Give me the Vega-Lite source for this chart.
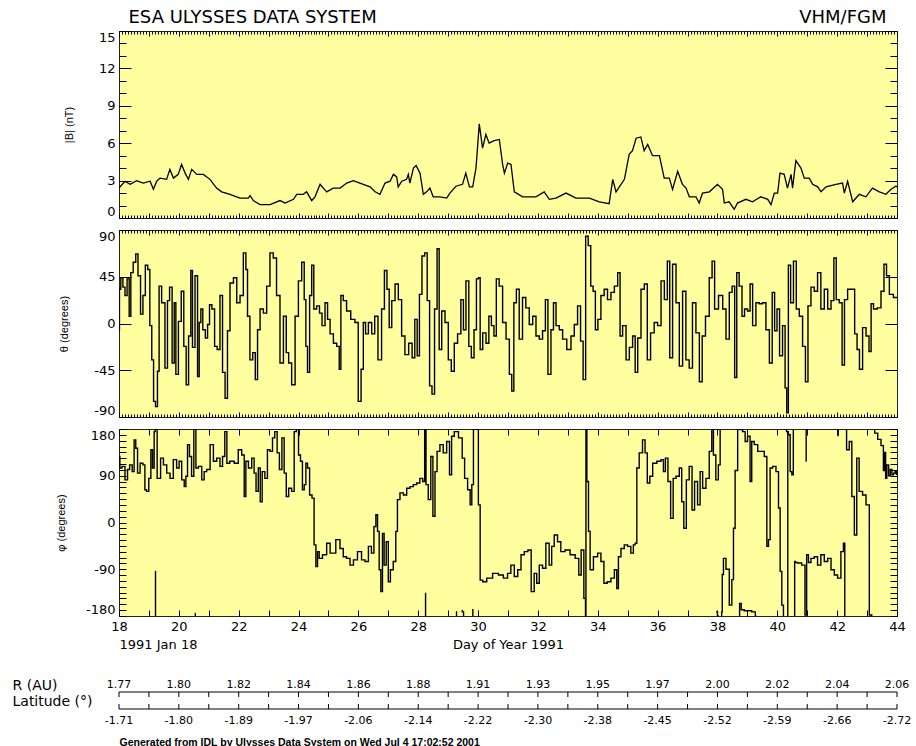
{
"$schema": "https://vega.github.io/schema/vega-lite/v6.json",
"background": "white",
"padding": {"left": 12, "top": 8, "right": 5, "bottom": 0},
"spacing": 10,
"config": {
  "view": {"stroke": "#222222", "strokeWidth": 1, "fill": "#ffffa0"},
  "axis": {"grid": false, "domain": false, "tickColor": "black", "tickWidth": 1, "labelColor": "black", "titleColor": "black", "labelFont": "DejaVu Sans", "labelFontSize": 13, "titleFont": "Liberation Sans", "titleFontSize": 11, "titleFontWeight": "normal"}
},
"datasets": {
  "B": [
    {"day":18.00,"B":2.4},{"day":18.20,"B":2.95},{"day":18.37,"B":2.7},{"day":18.59,"B":3.0},{"day":18.81,"B":2.8},{"day":19.04,"B":2.95},{"day":19.15,"B":2.3},{"day":19.26,"B":2.95},{"day":19.37,"B":3.2},{"day":19.59,"B":3.1},{"day":19.70,"B":3.9},{"day":19.82,"B":3.2},{"day":19.98,"B":3.5},{"day":20.09,"B":4.3},{"day":20.21,"B":3.6},{"day":20.32,"B":3.1},{"day":20.43,"B":3.9},{"day":20.60,"B":3.5},{"day":20.82,"B":3.5},{"day":21.04,"B":3.1},{"day":21.26,"B":2.4},{"day":21.43,"B":2.1},{"day":21.71,"B":1.9},{"day":22.04,"B":1.6},{"day":22.32,"B":1.6},{"day":22.38,"B":1.8},{"day":22.49,"B":1.4},{"day":22.71,"B":1.07},{"day":23.05,"B":1.07},{"day":23.38,"B":1.4},{"day":23.55,"B":1.2},{"day":23.83,"B":1.5},{"day":23.94,"B":1.9},{"day":24.16,"B":1.9},{"day":24.27,"B":2.1},{"day":24.44,"B":1.4},{"day":24.55,"B":1.7},{"day":24.72,"B":2.7},{"day":24.94,"B":2.1},{"day":25.16,"B":2.4},{"day":25.39,"B":2.4},{"day":25.61,"B":2.8},{"day":25.83,"B":3.0},{"day":26.05,"B":2.8},{"day":26.39,"B":2.5},{"day":26.56,"B":2.1},{"day":26.72,"B":1.9},{"day":26.89,"B":2.8},{"day":27.06,"B":2.95},{"day":27.17,"B":3.5},{"day":27.28,"B":3.3},{"day":27.33,"B":2.5},{"day":27.45,"B":2.95},{"day":27.61,"B":3.1},{"day":27.67,"B":3.5},{"day":27.72,"B":2.8},{"day":27.84,"B":4.0},{"day":27.93,"B":4.2},{"day":28.06,"B":3.6},{"day":28.17,"B":1.9},{"day":28.28,"B":2.1},{"day":28.39,"B":2.4},{"day":28.50,"B":1.7},{"day":28.73,"B":1.7},{"day":28.95,"B":1.6},{"day":29.06,"B":2.0},{"day":29.26,"B":2.55},{"day":29.48,"B":2.7},{"day":29.59,"B":3.6},{"day":29.71,"B":2.5},{"day":29.82,"B":2.5},{"day":29.93,"B":4.0},{"day":30.04,"B":7.55},{"day":30.15,"B":5.6},{"day":30.26,"B":6.7},{"day":30.37,"B":6.0},{"day":30.54,"B":6.2},{"day":30.71,"B":6.3},{"day":30.82,"B":4.3},{"day":30.88,"B":3.6},{"day":30.99,"B":4.4},{"day":31.10,"B":4.3},{"day":31.21,"B":2.1},{"day":31.49,"B":1.7},{"day":31.93,"B":1.7},{"day":32.21,"B":2.1},{"day":32.38,"B":1.5},{"day":32.60,"B":1.6},{"day":32.94,"B":2.0},{"day":33.27,"B":1.6},{"day":33.72,"B":1.6},{"day":34.05,"B":1.3},{"day":34.38,"B":1.15},{"day":34.50,"B":3.1},{"day":34.61,"B":2.1},{"day":34.72,"B":2.5},{"day":34.89,"B":3.1},{"day":35.05,"B":5.1},{"day":35.16,"B":5.4},{"day":35.28,"B":6.4},{"day":35.44,"B":6.5},{"day":35.55,"B":5.4},{"day":35.67,"B":5.9},{"day":35.83,"B":5.0},{"day":36.06,"B":5.0},{"day":36.22,"B":3.2},{"day":36.39,"B":3.2},{"day":36.50,"B":2.3},{"day":36.67,"B":3.75},{"day":36.83,"B":2.7},{"day":36.95,"B":2.4},{"day":37.06,"B":1.7},{"day":37.28,"B":1.7},{"day":37.39,"B":1.2},{"day":37.50,"B":2.0},{"day":37.73,"B":2.1},{"day":38.00,"B":2.7},{"day":38.17,"B":2.3},{"day":38.23,"B":1.2},{"day":38.39,"B":1.3},{"day":38.56,"B":0.7},{"day":38.67,"B":1.2},{"day":38.95,"B":1.5},{"day":39.17,"B":1.3},{"day":39.45,"B":1.7},{"day":39.68,"B":1.5},{"day":39.79,"B":1.07},{"day":39.90,"B":2.0},{"day":40.01,"B":2.0},{"day":40.09,"B":3.6},{"day":40.23,"B":3.5},{"day":40.34,"B":2.4},{"day":40.46,"B":3.5},{"day":40.51,"B":2.4},{"day":40.62,"B":4.6},{"day":40.79,"B":4.0},{"day":40.90,"B":3.2},{"day":41.07,"B":3.2},{"day":41.18,"B":2.7},{"day":41.35,"B":2.5},{"day":41.46,"B":2.1},{"day":41.63,"B":2.5},{"day":41.96,"B":2.7},{"day":42.18,"B":2.8},{"day":42.24,"B":2.0},{"day":42.35,"B":2.95},{"day":42.52,"B":1.3},{"day":42.74,"B":1.9},{"day":42.96,"B":1.7},{"day":43.18,"B":2.4},{"day":43.41,"B":2.1},{"day":43.63,"B":1.9},{"day":43.80,"B":2.3},{"day":43.96,"B":2.55},{"day":44.00,"B":2.5}
  ],
  "theta": [
    {"day":18.00,"theta":-6},{"day":18.03,"theta":33},{"day":18.09,"theta":44},{"day":18.17,"theta":35},{"day":18.23,"theta":27},{"day":18.31,"theta":43},{"day":18.37,"theta":7},{"day":18.42,"theta":49},{"day":18.53,"theta":59},{"day":18.59,"theta":67},{"day":18.68,"theta":46},{"day":18.76,"theta":9},{"day":18.84,"theta":27},{"day":18.92,"theta":56},{"day":19.00,"theta":52},{"day":19.06,"theta":-2},{"day":19.13,"theta":-35},{"day":19.18,"theta":-75},{"day":19.26,"theta":-80},{"day":19.31,"theta":-46},{"day":19.37,"theta":36},{"day":19.48,"theta":20},{"day":19.59,"theta":-43},{"day":19.65,"theta":22},{"day":19.73,"theta":35},{"day":19.82,"theta":-38},{"day":19.87,"theta":20},{"day":19.93,"theta":-49},{"day":20.04,"theta":2},{"day":20.12,"theta":31},{"day":20.21,"theta":-22},{"day":20.28,"theta":-59},{"day":20.37,"theta":-12},{"day":20.43,"theta":51},{"day":20.48,"theta":-23},{"day":20.60,"theta":46},{"day":20.65,"theta":-51},{"day":20.71,"theta":1},{"day":20.76,"theta":14},{"day":20.84,"theta":-6},{"day":20.93,"theta":-14},{"day":20.99,"theta":-1},{"day":21.06,"theta":18},{"day":21.15,"theta":14},{"day":21.24,"theta":-22},{"day":21.32,"theta":-25},{"day":21.43,"theta":27},{"day":21.49,"theta":-47},{"day":21.60,"theta":-72},{"day":21.65,"theta":-7},{"day":21.77,"theta":39},{"day":21.88,"theta":44},{"day":21.99,"theta":20},{"day":22.10,"theta":27},{"day":22.21,"theta":68},{"day":22.27,"theta":52},{"day":22.32,"theta":7},{"day":22.43,"theta":-35},{"day":22.51,"theta":-28},{"day":22.60,"theta":-54},{"day":22.66,"theta":-6},{"day":22.77,"theta":14},{"day":22.88,"theta":10},{"day":22.99,"theta":36},{"day":23.10,"theta":68},{"day":23.21,"theta":63},{"day":23.32,"theta":27},{"day":23.44,"theta":-38},{"day":23.55,"theta":7},{"day":23.63,"theta":-28},{"day":23.71,"theta":-38},{"day":23.83,"theta":-59},{"day":23.94,"theta":7},{"day":24.05,"theta":41},{"day":24.16,"theta":59},{"day":24.22,"theta":23},{"day":24.27,"theta":-22},{"day":24.33,"theta":-47},{"day":24.41,"theta":27},{"day":24.47,"theta":56},{"day":24.55,"theta":14},{"day":24.66,"theta":17},{"day":24.74,"theta":10},{"day":24.83,"theta":-2},{"day":24.94,"theta":20},{"day":25.00,"theta":4},{"day":25.11,"theta":-10},{"day":25.22,"theta":-19},{"day":25.33,"theta":-22},{"day":25.39,"theta":-44},{"day":25.44,"theta":27},{"day":25.55,"theta":22},{"day":25.66,"theta":12},{"day":25.83,"theta":4},{"day":25.94,"theta":1},{"day":26.05,"theta":-75},{"day":26.13,"theta":-44},{"day":26.20,"theta":1},{"day":26.28,"theta":-10},{"day":26.39,"theta":1},{"day":26.50,"theta":-10},{"day":26.59,"theta":7},{"day":26.72,"theta":-35},{"day":26.83,"theta":14},{"day":26.91,"theta":51},{"day":27.00,"theta":33},{"day":27.06,"theta":-4},{"day":27.17,"theta":22},{"day":27.28,"theta":38},{"day":27.39,"theta":23},{"day":27.50,"theta":-12},{"day":27.61,"theta":-30},{"day":27.75,"theta":-19},{"day":27.84,"theta":-33},{"day":27.93,"theta":4},{"day":28.00,"theta":-31},{"day":28.08,"theta":28},{"day":28.17,"theta":65},{"day":28.26,"theta":68},{"day":28.34,"theta":22},{"day":28.42,"theta":-60},{"day":28.50,"theta":-68},{"day":28.59,"theta":14},{"day":28.67,"theta":72},{"day":28.73,"theta":-25},{"day":28.84,"theta":12},{"day":28.95,"theta":1},{"day":29.06,"theta":-35},{"day":29.15,"theta":-46},{"day":29.26,"theta":-19},{"day":29.37,"theta":-10},{"day":29.48,"theta":23},{"day":29.54,"theta":-6},{"day":29.65,"theta":41},{"day":29.73,"theta":-22},{"day":29.82,"theta":-33},{"day":29.91,"theta":-6},{"day":29.98,"theta":43},{"day":30.04,"theta":44},{"day":30.10,"theta":-25},{"day":30.21,"theta":-9},{"day":30.32,"theta":-19},{"day":30.40,"theta":7},{"day":30.49,"theta":-2},{"day":30.57,"theta":-12},{"day":30.65,"theta":43},{"day":30.76,"theta":36},{"day":30.88,"theta":1},{"day":30.99,"theta":-15},{"day":31.10,"theta":-49},{"day":31.15,"theta":-65},{"day":31.24,"theta":20},{"day":31.32,"theta":33},{"day":31.43,"theta":-15},{"day":31.54,"theta":25},{"day":31.65,"theta":15},{"day":31.77,"theta":-1},{"day":31.88,"theta":7},{"day":31.99,"theta":-12},{"day":32.10,"theta":-15},{"day":32.21,"theta":-7},{"day":32.29,"theta":23},{"day":32.38,"theta":-49},{"day":32.49,"theta":-6},{"day":32.55,"theta":20},{"day":32.66,"theta":-2},{"day":32.77,"theta":-6},{"day":32.88,"theta":-15},{"day":33.05,"theta":-25},{"day":33.16,"theta":-12},{"day":33.27,"theta":-1},{"day":33.38,"theta":17},{"day":33.47,"theta":-17},{"day":33.55,"theta":-54},{"day":33.64,"theta":84},{"day":33.72,"theta":75},{"day":33.81,"theta":36},{"day":33.88,"theta":31},{"day":33.96,"theta":-6},{"day":34.05,"theta":4},{"day":34.16,"theta":27},{"day":34.27,"theta":33},{"day":34.38,"theta":23},{"day":34.50,"theta":30},{"day":34.61,"theta":36},{"day":34.72,"theta":49},{"day":34.77,"theta":-12},{"day":34.89,"theta":-2},{"day":35.00,"theta":-35},{"day":35.11,"theta":-23},{"day":35.22,"theta":-12},{"day":35.28,"theta":-47},{"day":35.39,"theta":-14},{"day":35.50,"theta":33},{"day":35.61,"theta":38},{"day":35.70,"theta":-35},{"day":35.83,"theta":-9},{"day":35.94,"theta":1},{"day":36.06,"theta":-2},{"day":36.17,"theta":41},{"day":36.28,"theta":23},{"day":36.37,"theta":60},{"day":36.44,"theta":-33},{"day":36.56,"theta":57},{"day":36.67,"theta":20},{"day":36.78,"theta":-41},{"day":36.89,"theta":31},{"day":37.00,"theta":-35},{"day":37.11,"theta":-43},{"day":37.22,"theta":20},{"day":37.34,"theta":-9},{"day":37.45,"theta":-56},{"day":37.53,"theta":-12},{"day":37.67,"theta":7},{"day":37.78,"theta":44},{"day":37.86,"theta":60},{"day":37.95,"theta":14},{"day":38.12,"theta":27},{"day":38.23,"theta":14},{"day":38.34,"theta":-15},{"day":38.45,"theta":30},{"day":38.53,"theta":36},{"day":38.62,"theta":-52},{"day":38.67,"theta":49},{"day":38.78,"theta":36},{"day":38.86,"theta":7},{"day":38.95,"theta":14},{"day":39.06,"theta":12},{"day":39.12,"theta":38},{"day":39.23,"theta":-2},{"day":39.34,"theta":20},{"day":39.45,"theta":19},{"day":39.56,"theta":20},{"day":39.68,"theta":-6},{"day":39.79,"theta":-38},{"day":39.87,"theta":30},{"day":39.95,"theta":-7},{"day":40.03,"theta":14},{"day":40.12,"theta":-31},{"day":40.23,"theta":-2},{"day":40.29,"theta":-62},{"day":40.34,"theta":-86},{"day":40.40,"theta":56},{"day":40.49,"theta":20},{"day":40.59,"theta":60},{"day":40.68,"theta":14},{"day":40.79,"theta":7},{"day":40.90,"theta":-22},{"day":40.98,"theta":-56},{"day":41.07,"theta":17},{"day":41.18,"theta":35},{"day":41.29,"theta":31},{"day":41.40,"theta":49},{"day":41.51,"theta":14},{"day":41.63,"theta":33},{"day":41.74,"theta":14},{"day":41.85,"theta":22},{"day":41.93,"theta":63},{"day":42.01,"theta":23},{"day":42.13,"theta":20},{"day":42.20,"theta":-40},{"day":42.29,"theta":23},{"day":42.41,"theta":33},{"day":42.54,"theta":33},{"day":42.63,"theta":-10},{"day":42.70,"theta":-25},{"day":42.79,"theta":-44},{"day":42.91,"theta":-4},{"day":43.02,"theta":-12},{"day":43.11,"theta":-27},{"day":43.16,"theta":19},{"day":43.27,"theta":14},{"day":43.41,"theta":15},{"day":43.52,"theta":31},{"day":43.61,"theta":57},{"day":43.69,"theta":46},{"day":43.80,"theta":28},{"day":43.96,"theta":25},{"day":44.00,"theta":25}
  ],
  "phi": [
    {"seg":1,"day":18.00,"phi":127},{"seg":1,"day":18.06,"phi":105},{"seg":1,"day":18.14,"phi":108},{"seg":1,"day":18.26,"phi":82},{"seg":1,"day":18.31,"phi":102},{"seg":1,"day":18.40,"phi":111},{"seg":1,"day":18.48,"phi":98},{"seg":1,"day":18.53,"phi":159},{"seg":1,"day":18.59,"phi":143},{"seg":1,"day":18.65,"phi":95},{"seg":1,"day":18.76,"phi":114},{"seg":1,"day":18.84,"phi":111},{"seg":1,"day":18.89,"phi":63},{"seg":1,"day":18.95,"phi":60},{"seg":1,"day":19.04,"phi":85},{"seg":1,"day":19.09,"phi":140},{"seg":1,"day":19.15,"phi":105},{"seg":1,"day":19.20,"phi":175},{"seg":1,"day":19.22,"phi":180},{"seg":1,"day":19.24,"phi":180},{"seg":1,"day":19.31,"phi":85},{"seg":1,"day":19.35,"phi":85},{"seg":1,"day":19.43,"phi":124},{"seg":1,"day":19.54,"phi":111},{"seg":1,"day":19.65,"phi":95},{"seg":1,"day":19.76,"phi":85},{"seg":1,"day":19.87,"phi":121},{"seg":1,"day":19.98,"phi":105},{"seg":1,"day":20.04,"phi":118},{"seg":1,"day":20.15,"phi":82},{"seg":1,"day":20.21,"phi":69},{"seg":1,"day":20.26,"phi":89},{"seg":1,"day":20.32,"phi":150},{"seg":1,"day":20.39,"phi":127},{"seg":1,"day":20.46,"phi":89},{"seg":1,"day":20.54,"phi":180},{"seg":1,"day":20.60,"phi":105},{"seg":1,"day":20.71,"phi":108},{"seg":1,"day":20.82,"phi":82},{"seg":1,"day":20.87,"phi":98},{"seg":1,"day":20.99,"phi":102},{"seg":1,"day":21.10,"phi":150},{"seg":1,"day":21.21,"phi":118},{"seg":1,"day":21.32,"phi":124},{"seg":1,"day":21.43,"phi":108},{"seg":1,"day":21.49,"phi":127},{"seg":1,"day":21.58,"phi":175},{"seg":1,"day":21.63,"phi":114},{"seg":1,"day":21.77,"phi":118},{"seg":1,"day":21.93,"phi":114},{"seg":1,"day":22.04,"phi":140},{"seg":1,"day":22.16,"phi":130},{"seg":1,"day":22.21,"phi":50},{"seg":1,"day":22.27,"phi":118},{"seg":1,"day":22.38,"phi":105},{"seg":1,"day":22.49,"phi":124},{"seg":1,"day":22.54,"phi":95},{"seg":1,"day":22.62,"phi":60},{"seg":1,"day":22.69,"phi":105},{"seg":1,"day":22.75,"phi":40},{"seg":1,"day":22.82,"phi":98},{"seg":1,"day":22.93,"phi":85},{"seg":1,"day":22.99,"phi":140},{"seg":1,"day":23.10,"phi":137},{"seg":1,"day":23.16,"phi":163},{"seg":1,"day":23.25,"phi":175},{"seg":1,"day":23.32,"phi":134},{"seg":1,"day":23.40,"phi":102},{"seg":1,"day":23.49,"phi":163},{"seg":1,"day":23.55,"phi":95},{"seg":1,"day":23.63,"phi":50},{"seg":1,"day":23.71,"phi":66},{"seg":1,"day":23.83,"phi":60},{"seg":1,"day":23.88,"phi":175},{"seg":1,"day":23.97,"phi":180},{"seg":1,"day":24.03,"phi":130},{"seg":1,"day":24.10,"phi":118},{"seg":1,"day":24.16,"phi":63},{"seg":1,"day":24.22,"phi":73},{"seg":1,"day":24.27,"phi":114},{"seg":1,"day":24.33,"phi":105},{"seg":1,"day":24.41,"phi":53},{"seg":1,"day":24.49,"phi":47},{"seg":1,"day":24.55,"phi":-43},{"seg":1,"day":24.61,"phi":-85},{"seg":1,"day":24.66,"phi":-56},{"seg":1,"day":24.72,"phi":-69},{"seg":1,"day":24.88,"phi":-62},{"seg":1,"day":25.00,"phi":-40},{"seg":1,"day":25.11,"phi":-59},{"seg":1,"day":25.16,"phi":-59},{"seg":1,"day":25.33,"phi":-33},{"seg":1,"day":25.44,"phi":-50},{"seg":1,"day":25.55,"phi":-66},{"seg":1,"day":25.66,"phi":-69},{"seg":1,"day":25.78,"phi":-82},{"seg":1,"day":25.89,"phi":-72},{"seg":1,"day":26.05,"phi":-56},{"seg":1,"day":26.16,"phi":-72},{"seg":1,"day":26.28,"phi":-75},{"seg":1,"day":26.39,"phi":-46},{"seg":1,"day":26.48,"phi":-59},{"seg":1,"day":26.56,"phi":-8},{"seg":1,"day":26.61,"phi":15},{"seg":1,"day":26.67,"phi":-17},{"seg":1,"day":26.72,"phi":-91},{"seg":1,"day":26.78,"phi":-133},{"seg":1,"day":26.83,"phi":-21},{"seg":1,"day":26.89,"phi":-82},{"seg":1,"day":26.97,"phi":-37},{"seg":1,"day":27.03,"phi":-114},{"seg":1,"day":27.11,"phi":-91},{"seg":1,"day":27.22,"phi":-75},{"seg":1,"day":27.28,"phi":-17},{"seg":1,"day":27.33,"phi":44},{"seg":1,"day":27.45,"phi":57},{"seg":1,"day":27.56,"phi":53},{"seg":1,"day":27.67,"phi":66},{"seg":1,"day":27.78,"phi":69},{"seg":1,"day":27.89,"phi":73},{"seg":1,"day":28.00,"phi":76},{"seg":1,"day":28.11,"phi":85},{"seg":1,"day":28.19,"phi":79},{"seg":1,"day":28.24,"phi":180},{"seg":1,"day":28.28,"phi":73},{"seg":1,"day":28.39,"phi":44},{"seg":1,"day":28.45,"phi":127},{"seg":1,"day":28.53,"phi":12},{"seg":1,"day":28.59,"phi":98},{"seg":1,"day":28.67,"phi":137},{"seg":1,"day":28.78,"phi":150},{"seg":1,"day":28.89,"phi":134},{"seg":1,"day":29.01,"phi":156},{"seg":1,"day":29.08,"phi":92},{"seg":1,"day":29.15,"phi":166},{"seg":1,"day":29.26,"phi":175},{"seg":1,"day":29.43,"phi":163},{"seg":1,"day":29.51,"phi":124},{"seg":1,"day":29.59,"phi":85},{"seg":1,"day":29.71,"phi":63},{"seg":1,"day":29.76,"phi":34},{"seg":1,"day":29.82,"phi":73},{"seg":1,"day":29.87,"phi":180},{"seg":1,"day":29.98,"phi":180},{"seg":1,"day":30.04,"phi":34},{"seg":1,"day":30.10,"phi":-111},{"seg":1,"day":30.21,"phi":-114},{"seg":1,"day":30.37,"phi":-107},{"seg":1,"day":30.60,"phi":-98},{"seg":1,"day":30.76,"phi":-101},{"seg":1,"day":30.93,"phi":-107},{"seg":1,"day":31.04,"phi":-98},{"seg":1,"day":31.15,"phi":-82},{"seg":1,"day":31.27,"phi":-104},{"seg":1,"day":31.38,"phi":-91},{"seg":1,"day":31.49,"phi":-62},{"seg":1,"day":31.60,"phi":-56},{"seg":1,"day":31.73,"phi":-53},{"seg":1,"day":31.82,"phi":-133},{"seg":1,"day":31.93,"phi":-98},{"seg":1,"day":31.99,"phi":-117},{"seg":1,"day":32.10,"phi":-82},{"seg":1,"day":32.21,"phi":-88},{"seg":1,"day":32.32,"phi":-40},{"seg":1,"day":32.43,"phi":-82},{"seg":1,"day":32.49,"phi":-46},{"seg":1,"day":32.60,"phi":-24},{"seg":1,"day":32.71,"phi":-37},{"seg":1,"day":32.82,"phi":-56},{"seg":1,"day":32.99,"phi":-53},{"seg":1,"day":33.16,"phi":-62},{"seg":1,"day":33.33,"phi":-69},{"seg":1,"day":33.40,"phi":-101},{"seg":1,"day":33.49,"phi":-53},{"seg":1,"day":33.58,"phi":-146},{"seg":1,"day":33.60,"phi":-180},{"seg":1,"day":33.61,"phi":180},{"seg":1,"day":33.66,"phi":79},{"seg":1,"day":33.72,"phi":-17},{"seg":1,"day":33.77,"phi":-91},{"seg":1,"day":33.94,"phi":-66},{"seg":1,"day":34.05,"phi":-59},{"seg":1,"day":34.16,"phi":-75},{"seg":1,"day":34.25,"phi":-117},{"seg":1,"day":34.38,"phi":-114},{"seg":1,"day":34.50,"phi":-107},{"seg":1,"day":34.61,"phi":-91},{"seg":1,"day":34.66,"phi":-127},{"seg":1,"day":34.72,"phi":-66},{"seg":1,"day":34.83,"phi":-50},{"seg":1,"day":34.94,"phi":-43},{"seg":1,"day":35.05,"phi":-46},{"seg":1,"day":35.16,"phi":-59},{"seg":1,"day":35.22,"phi":-43},{"seg":1,"day":35.28,"phi":-40},{"seg":1,"day":35.33,"phi":105},{"seg":1,"day":35.44,"phi":134},{"seg":1,"day":35.55,"phi":159},{"seg":1,"day":35.61,"phi":134},{"seg":1,"day":35.70,"phi":76},{"seg":1,"day":35.78,"phi":89},{"seg":1,"day":35.89,"phi":114},{"seg":1,"day":36.06,"phi":118},{"seg":1,"day":36.17,"phi":121},{"seg":1,"day":36.22,"phi":98},{"seg":1,"day":36.30,"phi":124},{"seg":1,"day":36.39,"phi":79},{"seg":1,"day":36.48,"phi":8},{"seg":1,"day":36.56,"phi":85},{"seg":1,"day":36.67,"phi":89},{"seg":1,"day":36.78,"phi":105},{"seg":1,"day":36.83,"phi":40},{"seg":1,"day":36.92,"phi":-11},{"seg":1,"day":37.00,"phi":82},{"seg":1,"day":37.11,"phi":108},{"seg":1,"day":37.19,"phi":24},{"seg":1,"day":37.28,"phi":79},{"seg":1,"day":37.39,"phi":34},{"seg":1,"day":37.45,"phi":98},{"seg":1,"day":37.56,"phi":66},{"seg":1,"day":37.67,"phi":85},{"seg":1,"day":37.78,"phi":137},{"seg":1,"day":37.84,"phi":179},{"seg":1,"day":37.89,"phi":130},{"seg":1,"day":38.00,"phi":82},{"seg":1,"day":38.06,"phi":111},{"seg":1,"day":38.12,"phi":180},
    {"seg":2,"day":19.21,"phi":-94},{"seg":2,"day":19.23,"phi":-180},
    {"seg":3,"day":38.13,"phi":-180},{"seg":3,"day":38.15,"phi":-172},{"seg":3,"day":38.17,"phi":-100},{"seg":3,"day":38.23,"phi":-69},{"seg":3,"day":38.34,"phi":-90},{"seg":3,"day":38.45,"phi":-159},{"seg":3,"day":38.51,"phi":-110},{"seg":3,"day":38.56,"phi":-11},{"seg":3,"day":38.62,"phi":100},{"seg":3,"day":38.73,"phi":180},{"seg":3,"day":38.78,"phi":179},{"seg":3,"day":38.90,"phi":175},{"seg":3,"day":38.95,"phi":156},{"seg":3,"day":39.06,"phi":166},{"seg":3,"day":39.12,"phi":79},{"seg":3,"day":39.17,"phi":156},{"seg":3,"day":39.29,"phi":150},{"seg":3,"day":39.40,"phi":137},{"seg":3,"day":39.51,"phi":137},{"seg":3,"day":39.62,"phi":127},{"seg":3,"day":39.68,"phi":-46},{"seg":3,"day":39.73,"phi":-33},{"seg":3,"day":39.79,"phi":105},{"seg":3,"day":39.90,"phi":108},{"seg":3,"day":40.01,"phi":98},{"seg":3,"day":40.07,"phi":28},{"seg":3,"day":40.12,"phi":-94},{"seg":3,"day":40.18,"phi":-159},{"seg":3,"day":40.23,"phi":-180},
    {"seg":4,"day":40.28,"phi":180},{"seg":4,"day":40.34,"phi":175},{"seg":4,"day":40.40,"phi":169},{"seg":4,"day":40.46,"phi":98},{"seg":4,"day":40.51,"phi":92},{"seg":4,"day":40.56,"phi":180},
    {"seg":5,"day":40.57,"phi":-180},{"seg":5,"day":40.59,"phi":-75},{"seg":5,"day":40.62,"phi":-77},{"seg":5,"day":40.73,"phi":-78},{"seg":5,"day":40.90,"phi":-82},{"seg":5,"day":40.95,"phi":-178},{"seg":5,"day":41.01,"phi":-62},{"seg":5,"day":41.07,"phi":-77},{"seg":5,"day":41.18,"phi":-69},{"seg":5,"day":41.29,"phi":-66},{"seg":5,"day":41.40,"phi":-82},{"seg":5,"day":41.51,"phi":-62},{"seg":5,"day":41.63,"phi":-75},{"seg":5,"day":41.74,"phi":-69},{"seg":5,"day":41.85,"phi":-91},{"seg":5,"day":41.96,"phi":-101},{"seg":5,"day":42.07,"phi":-107},{"seg":5,"day":42.18,"phi":-56},{"seg":5,"day":42.24,"phi":-40},{"seg":5,"day":42.27,"phi":-180},
    {"seg":6,"day":42.28,"phi":180},{"seg":6,"day":42.35,"phi":140},{"seg":6,"day":42.46,"phi":156},{"seg":6,"day":42.52,"phi":50},{"seg":6,"day":42.63,"phi":-24},{"seg":6,"day":42.68,"phi":124},{"seg":6,"day":42.79,"phi":60},{"seg":6,"day":42.91,"phi":53},{"seg":6,"day":43.02,"phi":34},{"seg":6,"day":43.13,"phi":-178},{"seg":6,"day":43.18,"phi":-180},
    {"seg":7,"day":43.21,"phi":180},{"seg":7,"day":43.30,"phi":172},{"seg":7,"day":43.41,"phi":160},{"seg":7,"day":43.52,"phi":148},{"seg":7,"day":43.57,"phi":100},{"seg":7,"day":43.61,"phi":135},{"seg":7,"day":43.63,"phi":85},{"seg":7,"day":43.69,"phi":111},{"seg":7,"day":43.75,"phi":90},{"seg":7,"day":43.80,"phi":102},{"seg":7,"day":43.86,"phi":92},{"seg":7,"day":43.91,"phi":95},{"seg":7,"day":43.96,"phi":98},{"seg":7,"day":44.00,"phi":93},
    {"seg":8,"day":40.96,"phi":180},{"seg":8,"day":40.97,"phi":118},
    {"seg":9,"day":28.24,"phi":-136},{"seg":9,"day":28.25,"phi":-180},
    {"seg":10,"day":29.26,"phi":-172},{"seg":10,"day":29.30,"phi":-180},
    {"seg":11,"day":29.45,"phi":-170},{"seg":11,"day":29.50,"phi":-172},{"seg":11,"day":29.53,"phi":-180},
    {"seg":12,"day":29.80,"phi":-168},{"seg":12,"day":29.85,"phi":-180},
    {"seg":13,"day":38.73,"phi":-180},{"seg":13,"day":38.75,"phi":-156},{"seg":13,"day":38.84,"phi":-168},{"seg":13,"day":38.95,"phi":-170},{"seg":13,"day":39.06,"phi":-170},{"seg":13,"day":39.23,"phi":-172},{"seg":13,"day":39.30,"phi":-180},
    {"seg":14,"day":20.54,"phi":-180},{"seg":14,"day":20.56,"phi":-175},
    {"seg":15,"day":37.95,"phi":-172},{"seg":15,"day":38.05,"phi":-180},
    {"seg":16,"day":42.03,"phi":180},{"seg":16,"day":42.04,"phi":167},
    {"seg":17,"day":40.34,"phi":175},{"seg":17,"day":40.36,"phi":-180}
  ],
  "orbit": [
    {"day":18,"R":"1.77","lat":"-1.71"},{"day":19},{"day":20,"R":"1.80","lat":"-1.80"},{"day":21},{"day":22,"R":"1.82","lat":"-1.89"},{"day":23},{"day":24,"R":"1.84","lat":"-1.97"},{"day":25},{"day":26,"R":"1.86","lat":"-2.06"},{"day":27},{"day":28,"R":"1.88","lat":"-2.14"},{"day":29},{"day":30,"R":"1.91","lat":"-2.22"},{"day":31},{"day":32,"R":"1.93","lat":"-2.30"},{"day":33},{"day":34,"R":"1.95","lat":"-2.38"},{"day":35},{"day":36,"R":"1.97","lat":"-2.45"},{"day":37},{"day":38,"R":"2.00","lat":"-2.52"},{"day":39},{"day":40,"R":"2.02","lat":"-2.59"},{"day":41},{"day":42,"R":"2.04","lat":"-2.66"},{"day":43},{"day":44,"R":"2.06","lat":"-2.72"}
  ]
},
"vconcat": [
  {
    "width": 778, "height": 187,
    "data": {"name": "B"},
    "resolve": {"scale": {"x": "shared", "y": "shared"}, "axis": {"x": "independent", "y": "independent"}},
    "layer": [
      {"mark": {"type": "line", "color": "black", "strokeWidth": 1.3, "clip": true},
       "encoding": {
         "x": {"field": "day", "type": "quantitative", "scale": {"domain": [18, 44], "nice": false, "zero": false},
               "axis": {"orient": "bottom", "tickCount": 26, "tickSize": -5, "labels": false, "title": null}},
         "y": {"field": "B", "type": "quantitative", "scale": {"domain": [0, 15], "nice": false, "zero": false},
               "axis": {"orient": "left", "values": [0, 3, 6, 9, 12, 15], "tickSize": -12, "labelPadding": 16, "labelFlush": true, "labelExpr": "'' + datum.value", "title": "|B| (nT)", "titlePadding": 24}}
       }},
      {"mark": {"type": "line", "opacity": 0},
       "encoding": {
         "x": {"field": "day", "type": "quantitative", "axis": {"orient": "top", "tickCount": 26, "tickSize": -5, "labels": false, "title": "VHM/FGM", "titleX": 767, "titleAlign": "right", "titlePadding": 4, "titleBaseline": "bottom", "titleFont": "DejaVu Sans", "titleFontSize": 18}},
         "y": {"field": "B", "type": "quantitative", "axis": {"orient": "right", "values": [0, 3, 6, 9, 12, 15], "tickSize": -12, "labels": false, "title": null}}
       }},
      {"mark": {"type": "line", "opacity": 0},
       "encoding": {
         "x": {"field": "day", "type": "quantitative", "axis": {"orient": "bottom", "tickCount": 200, "tickSize": -3, "labels": false, "title": null}},
         "y": {"field": "B", "type": "quantitative", "axis": {"orient": "left", "tickCount": 15, "tickSize": -7, "labels": false, "title": null}}
       }},
      {"mark": {"type": "line", "opacity": 0},
       "encoding": {
         "x": {"field": "day", "type": "quantitative", "axis": {"orient": "top", "tickCount": 200, "tickSize": -3, "labels": false, "title": "ESA ULYSSES DATA SYSTEM", "titleX": 9, "titleAlign": "left", "titlePadding": 4, "titleBaseline": "bottom", "titleFont": "DejaVu Sans", "titleFontSize": 18}},
         "y": {"field": "B", "type": "quantitative", "axis": {"orient": "right", "tickCount": 15, "tickSize": -7, "labels": false, "title": null}}
       }}
    ]
  },
  {
    "width": 778, "height": 187,
    "data": {"name": "theta"},
    "resolve": {"scale": {"x": "shared", "y": "shared"}, "axis": {"x": "independent", "y": "independent"}},
    "layer": [
      {"mark": {"type": "line", "color": "black", "strokeWidth": 1.4, "interpolate": "step", "clip": true},
       "encoding": {
         "x": {"field": "day", "type": "quantitative", "scale": {"domain": [18, 44], "nice": false, "zero": false},
               "axis": {"orient": "bottom", "tickCount": 26, "tickSize": -5, "labels": false, "title": null}},
         "y": {"field": "theta", "type": "quantitative", "scale": {"domain": [-90, 90], "nice": false, "zero": false},
               "axis": {"orient": "left", "values": [-90, -45, 0, 45, 90], "tickSize": -12, "labelPadding": 16, "labelFlush": true, "labelExpr": "'' + datum.value", "title": "θ (degrees)", "titlePadding": 24}}
       }},
      {"mark": {"type": "line", "opacity": 0},
       "encoding": {
         "x": {"field": "day", "type": "quantitative", "axis": {"orient": "top", "tickCount": 26, "tickSize": -5, "labels": false, "title": null}},
         "y": {"field": "theta", "type": "quantitative", "axis": {"orient": "right", "values": [-90, -45, 0, 45, 90], "tickSize": -12, "labels": false, "title": null}}
       }},
      {"mark": {"type": "line", "opacity": 0},
       "encoding": {
         "x": {"field": "day", "type": "quantitative", "axis": {"orient": "bottom", "tickCount": 200, "tickSize": -3, "labels": false, "title": null}},
         "y": {"field": "theta", "type": "quantitative", "axis": null}
       }},
      {"mark": {"type": "line", "opacity": 0},
       "encoding": {
         "x": {"field": "day", "type": "quantitative", "axis": {"orient": "top", "tickCount": 200, "tickSize": -3, "labels": false, "title": null}},
         "y": {"field": "theta", "type": "quantitative", "axis": null}
       }}
    ]
  },
  {
    "width": 778, "height": 187,
    "data": {"name": "phi"},
    "resolve": {"scale": {"x": "shared", "y": "shared"}, "axis": {"x": "independent", "y": "independent"}},
    "layer": [
      {"mark": {"type": "line", "color": "black", "strokeWidth": 1.4, "interpolate": "step", "clip": true},
       "encoding": {
         "detail": {"field": "seg", "type": "nominal"},
         "x": {"field": "day", "type": "quantitative", "scale": {"domain": [18, 44], "nice": false, "zero": false},
               "axis": {"orient": "bottom", "tickCount": 26, "tickSize": -6, "labelPadding": 10, "labelFlush": false, "labelFont": "DejaVu Sans", "labelFontSize": 13, "labelExpr": "datum.value % 2 == 0 ? '' + datum.value : ''", "title": "Day of Year 1991", "titlePadding": 5, "titleFont": "DejaVu Sans", "titleFontSize": 13}},
         "y": {"field": "phi", "type": "quantitative", "scale": {"domain": [-180, 180], "nice": false, "zero": false},
               "axis": {"orient": "left", "values": [-180,-168.75,-157.5,-146.25,-135,-123.75,-112.5,-101.25,-90,-78.75,-67.5,-56.25,-45,-33.75,-22.5,-11.25,0,11.25,22.5,33.75,45,56.25,67.5,78.75,90,101.25,112.5,123.75,135,146.25,157.5,168.75,180], "tickSize": -7, "labelPadding": 11, "labelFlush": true, "labelExpr": "datum.value % 90 == 0 ? '' + datum.value : ''", "title": "φ (degrees)", "titlePadding": 19}}
       }},
      {"mark": {"type": "line", "opacity": 0},
       "encoding": {
         "detail": {"field": "seg", "type": "nominal"},
         "x": {"field": "day", "type": "quantitative", "axis": {"orient": "top", "tickCount": 26, "tickSize": -6, "labels": false, "title": null}},
         "y": {"field": "phi", "type": "quantitative", "axis": {"orient": "right", "values": [-180,-168.75,-157.5,-146.25,-135,-123.75,-112.5,-101.25,-90,-78.75,-67.5,-56.25,-45,-33.75,-22.5,-11.25,0,11.25,22.5,33.75,45,56.25,67.5,78.75,90,101.25,112.5,123.75,135,146.25,157.5,168.75,180], "tickSize": -7, "labels": false, "title": null}}
       }},
      {"mark": {"type": "line", "opacity": 0},
       "encoding": {
         "detail": {"field": "seg", "type": "nominal"},
         "x": {"field": "day", "type": "quantitative", "axis": {"orient": "bottom", "ticks": false, "labels": false, "title": "1991 Jan 18", "titleAnchor": "start", "titlePadding": 22, "titleFont": "DejaVu Sans", "titleFontSize": 13}},
         "y": {"field": "phi", "type": "quantitative", "axis": null}
       }}
    ]
  },
  {
    "width": 778, "height": 47,
    "view": {"stroke": null, "fill": null},
    "data": {"name": "orbit"},
    "encoding": {
      "x": {"field": "day", "type": "quantitative", "scale": {"domain": [18, 44], "nice": false, "zero": false},
            "axis": {"orient": "bottom", "ticks": false, "labels": false, "title": "Generated from IDL by Ulysses Data System on Wed Jul  4 17:02:52 2001", "titleAnchor": "start", "titlePadding": 28, "titleFont": "Liberation Sans", "titleFontSize": 10.5, "titleFontWeight": "bold"}}
    },
    "layer": [
      {"mark": {"type": "rule", "color": "black", "strokeWidth": 1, "yOffset": 7},
       "encoding": {
         "x": {"aggregate": "min", "field": "day", "type": "quantitative",
               "axis": {"orient": "bottom", "ticks": false, "labels": false, "title": "Generated from IDL by Ulysses Data System on Wed Jul  4 17:02:52 2001", "titleAnchor": "start", "titlePadding": 28, "titleFont": "Liberation Sans", "titleFontSize": 10.5, "titleFontWeight": "bold"}},
         "x2": {"aggregate": "max", "field": "day"},
         "y": {"datum": "R (AU)", "type": "nominal", "scale": {"type": "point", "domain": ["R (AU)", "Latitude (°)"], "padding": 0.96875, "align": 0.742},
               "axis": {"orient": "left", "ticks": false, "domain": false, "labelAlign": "left", "labelBaseline": "middle", "labelPadding": 107, "labelFont": "DejaVu Sans", "labelFontSize": 14, "title": null}}
       }},
      {"mark": {"type": "rule", "color": "black", "strokeWidth": 1, "yOffset": 8},
       "encoding": {
         "x": {"aggregate": "min", "field": "day", "type": "quantitative",
               "axis": {"orient": "bottom", "ticks": false, "labels": false, "title": "Generated from IDL by Ulysses Data System on Wed Jul  4 17:02:52 2001", "titleAnchor": "start", "titlePadding": 28, "titleFont": "Liberation Sans", "titleFontSize": 10.5, "titleFontWeight": "bold"}},
         "x2": {"aggregate": "max", "field": "day"},
         "y": {"datum": "Latitude (°)", "type": "nominal",
               "axis": {"orient": "left", "ticks": false, "domain": false, "labelAlign": "left", "labelBaseline": "middle", "labelPadding": 107, "labelFont": "DejaVu Sans", "labelFontSize": 14, "title": null}}
       }},
      {"mark": {"type": "tick", "orient": "vertical", "size": 5, "thickness": 1, "opacity": 1, "color": "black", "yOffset": 9.5},
       "encoding": {
         "y": {"datum": "R (AU)", "type": "nominal",
               "axis": {"orient": "left", "ticks": false, "domain": false, "labelAlign": "left", "labelBaseline": "middle", "labelPadding": 107, "labelFont": "DejaVu Sans", "labelFontSize": 14, "title": null}}
       }},
      {"mark": {"type": "tick", "orient": "vertical", "size": 5, "thickness": 1, "opacity": 1, "color": "black", "yOffset": 5.5},
       "encoding": {
         "y": {"datum": "Latitude (°)", "type": "nominal",
               "axis": {"orient": "left", "ticks": false, "domain": false, "labelAlign": "left", "labelBaseline": "middle", "labelPadding": 107, "labelFont": "DejaVu Sans", "labelFontSize": 14, "title": null}}
       }},
      {"transform": [{"filter": "isValid(datum.R)"}],
       "mark": {"type": "text", "font": "DejaVu Sans", "fontSize": 11, "color": "black", "baseline": "middle"},
       "encoding": {
         "y": {"datum": "R (AU)", "type": "nominal",
               "axis": {"orient": "left", "ticks": false, "domain": false, "labelAlign": "left", "labelBaseline": "middle", "labelPadding": 107, "labelFont": "DejaVu Sans", "labelFontSize": 14, "title": null}},
         "text": {"field": "R", "type": "nominal"}
       }},
      {"transform": [{"filter": "isValid(datum.lat)"}],
       "mark": {"type": "text", "font": "DejaVu Sans", "fontSize": 11, "color": "black", "baseline": "middle", "yOffset": 20},
       "encoding": {
         "y": {"datum": "Latitude (°)", "type": "nominal",
               "axis": {"orient": "left", "ticks": false, "domain": false, "labelAlign": "left", "labelBaseline": "middle", "labelPadding": 107, "labelFont": "DejaVu Sans", "labelFontSize": 14, "title": null}},
         "text": {"field": "lat", "type": "nominal"}
       }}
    ]
  }
]
}
